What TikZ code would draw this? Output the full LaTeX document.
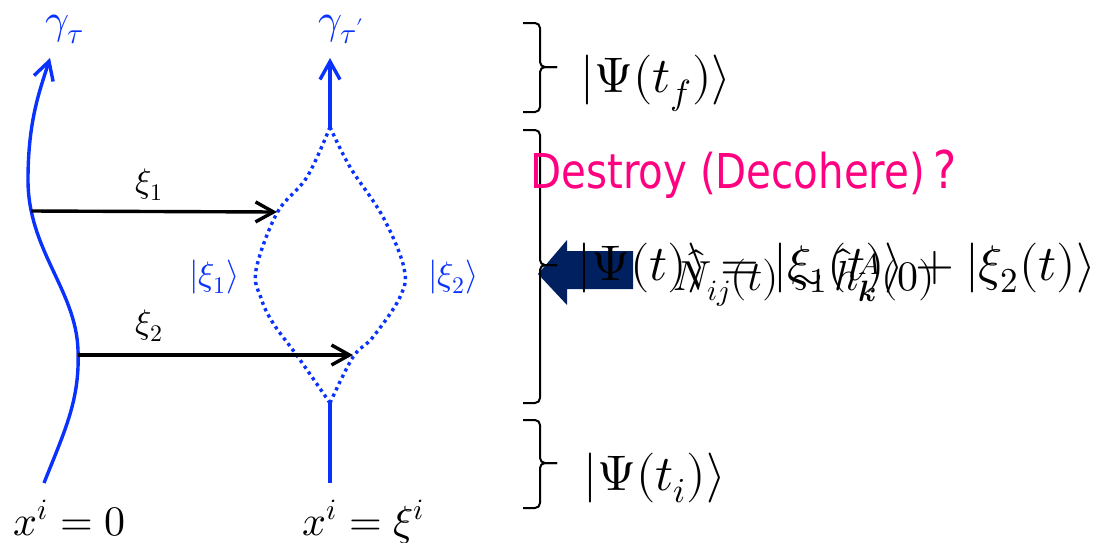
\documentclass[tikz,border=0pt]{standalone}
\usepackage{fontspec}
\usepackage{unicode-math}
\setmathfont{Latin Modern Math}
\newfontfamily\destfont[FakeStretch=0.84]{DejaVu Sans}
\usetikzlibrary{arrows.meta}
\definecolor{wl}{RGB}{10,50,255}
\definecolor{navy}{RGB}{0,32,96}
\definecolor{mag}{RGB}{255,0,128}
\begin{document}
\begin{tikzpicture}[x=0.5pt,y=-0.5pt,
  wline/.style={draw=wl,line width=1.7pt},
  tipa/.style={-{Straight Barb[length=9pt,width=10pt]}},
  lens/.style={draw=wl,line width=1.7pt,dash pattern=on 1.6pt off 1.9pt},
  brc/.style={draw=black,line width=1pt,rounded corners=2.5pt},
  vec/.style={draw=black,line width=1.7pt},
  lbl/.style={anchor=base west,inner sep=0pt},
  big/.style={font=\fontsize{25}{30}\selectfont},
  mid/.style={font=\fontsize{21}{25}\selectfont},
  small/.style={font=\fontsize{17}{20}\selectfont}]
\useasboundingbox (0,0) rectangle (1101,542);

% world line 1
\coordinate (w1b) at (44,483);
\coordinate (w1t) at (50,58);
\coordinate (s1) at (31,211);
\coordinate (s2) at (78,355);
\draw[wline,tipa] (w1b) .. controls (65,430) and (80,400) .. (78,350)
  .. controls (76,290) and (28,250) .. (28,180)
  .. controls (28,120) and (40,90) .. (w1t);

% world line 2
\coordinate (w2b) at (330,483);
\coordinate (lb) at (330,403);
\coordinate (lt) at (330,127);
\coordinate (w2t) at (330,58);
\draw[wline] (w2b) -- (lb);
\draw[wline,tipa] (lt) -- (w2t);
\draw[lens] plot[smooth,tension=0.6] coordinates
  {(330,127) (307,177) (277,213) (256,270) (261,298) (273,323) (298,357) (330,403)};
\draw[lens] plot[smooth,tension=0.6] coordinates
  {(330,127) (350,167) (383,217) (404,268) (400,297) (373,337) (353,357) (330,403)};

% displacement arrows
\coordinate (e1) at (277,212);
\coordinate (e2) at (353,355);
\draw[vec,tipa] (s1) -- (e1);
\draw[vec,tipa] (s2) -- (e2);

% labels left part
\node[lbl,mid,text=wl] (gt) at (45,33) {$\gamma_\tau$};
\node[lbl,mid,text=wl] (gtp) at (318,33) {$\gamma_{\tau'}$};
\node[lbl,small] (x1) at (135,192) {$\xi_1$};
\node[lbl,small] (x2) at (135,333) {$\xi_2$};
\node[lbl,small,text=wl] (k1) at (189,285) {$|\xi_1\rangle$};
\node[lbl,small,text=wl] (k2) at (428,285) {$|\xi_2\rangle$};
\node[lbl,mid] (o1) at (13,535) {$x^i=0$};
\node[lbl,mid] (o2) at (302,535) {$x^i=\xi^i$};

% block arrow
\fill[navy] (538,274) -- (567,240) -- (567,251) -- (633,251) -- (633,289)
  -- (567,289) -- (567,305) -- cycle;

% braces
\draw[brc] (523,23) -- (540,23) -- (540,67) -- (557,67);
\draw[brc] (557,67) -- (540,67) -- (540,112) -- (523,112);
\draw[brc] (523,130) -- (540,130) -- (540,265) -- (557,265);
\draw[brc] (557,265) -- (540,265) -- (540,403) -- (523,403);
\draw[brc] (523,420) -- (540,420) -- (540,463) -- (557,463);
\draw[brc] (557,463) -- (540,463) -- (540,508) -- (523,508);

% right texts
\node[lbl,big] (pf) at (580,92) {$|\Psi(t_f)\rangle$};
\node[lbl,big] (pi) at (583,490) {$|\Psi(t_i)\rangle$};
\node[lbl,font=\fontsize{24}{28}\selectfont,text=mag] (dq) at (530,188)
  {\destfont Destroy (Decohere)\hspace{4pt}{\fontsize{26}{28}\selectfont ?}};
\node[lbl,big] (pt) at (577,280) {$|\Psi(t)\rangle=|\xi_1(t)\rangle+|\xi_2(t)\rangle$};
\node[lbl,font=\fontsize{21}{25}\selectfont] (nn) at (673,290)
  {$\hat{N}_{ij}(t)\sim\hat{h}^{A}_{\symbfit{k}}(0)$};
\end{tikzpicture}
\end{document}
